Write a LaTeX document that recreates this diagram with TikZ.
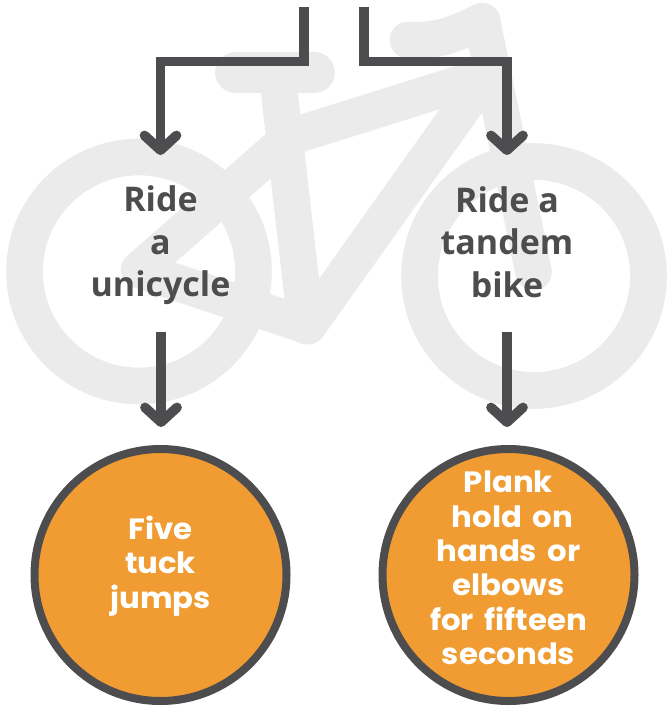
\documentclass[tikz,border=0pt]{standalone}
\usepackage{fontspec}
\setmainfont{Open Sans}
\newfontfamily\wfont[FakeStretch=1.05,Ligatures=NoCommon,WordSpace=1.6]{Poppins}
\usetikzlibrary{arrows.meta,calc}
\definecolor{bikegray}{HTML}{EBEBEB}
\definecolor{darkln}{HTML}{4D4C4E}
\definecolor{orng}{HTML}{F09C32}
\tikzset{
 bike/.style={draw=bikegray,line width=27.5pt,line cap=round,line join=round},
 conn/.style={draw=darkln,line width=7.3pt,-{Straight Barb[round,length=11pt,width=24pt,line width=7.3pt]}},
 elbow/.style={draw=darkln,line width=7.3pt,miter limit=10},
 graytxt/.style={text=darkln,font=\fontsize{25.5}{31.8}\selectfont\bfseries,align=center,anchor=center},
 whitetxt/.style={text=white,font=\wfont\fontsize{22}{25.85}\selectfont\bfseries,align=center,anchor=center},
 endcirc/.style={circle,draw=darkln,fill=orng,line width=6pt,minimum size=189pt,inner sep=0pt,align=center},
}
\begin{document}
\begin{tikzpicture}[x=0.75pt,y=-0.75pt]
\useasboundingbox (0,0) rectangle (667,707);
% bike
\draw[bike] (139,271.5) circle (114.5);
\draw[bike] (534,276) circle (114.5);
\draw[bike] (139,270) -- (290,137) -- (486,75.5) -- (308,326) -- cycle;
\draw[bike] (277,72) -- (306,326);
\draw[bike,line width=30.5pt] (235.5,72.5) -- (314.5,72.5);
\draw[bike] (408,40) .. controls (440,42) and (460,32) .. (482,21) -- (533.5,272);
% nodes
\node[endcirc] (c1) at (160.5,575) {};
\node[endcirc] (c2) at (508.5,575) {};
\node[graytxt] (t1) at (160.5,245.5) {Ride\\a\\unicycle};
\node[graytxt] (t2) at (507,242) {Ride a\\tandem\\bike};
\node[whitetxt] (w1) at (160.5,566) {Five\\tuck\\jumps};
\node[whitetxt] (w2) at (508.5,568) {Plank\\\hspace*{6pt}hold on\\hands or\\elbows\\for fifteen\\seconds};
% connectors
\coordinate (a) at (304,7);
\coordinate (b) at (364,7);
\coordinate (ta) at (160.5,155);
\coordinate (tb) at (507,155);
\coordinate (la) at (161,332);
\coordinate (lb) at (507,332);
\coordinate (ma) at (161,427);
\coordinate (mb) at (507,427);
\draw[elbow] (a) |- (160.5,61.5) -- (160.5,130);
\draw[conn] (160.5,120) -- (ta);
\draw[elbow] (b) |- (507,61.5) -- (507,130);
\draw[conn] (507,120) -- (tb);
\draw[conn] (la) -- (ma);
\draw[conn] (lb) -- (mb);
\end{tikzpicture}
\end{document}
